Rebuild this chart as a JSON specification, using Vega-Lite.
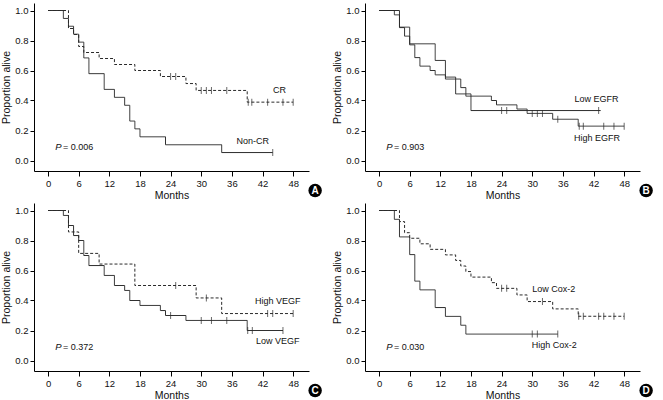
{
  "$schema": "https://vega.github.io/schema/vega-lite/v6.json",
  "padding": {"left": 1, "top": 3, "right": 0, "bottom": 0},
  "datasets": {"km": [
    {"p":"A","k":"km","g":"Non-CR","d":"solid","t":0,"s":1},
    {"p":"A","k":"km","g":"Non-CR","d":"solid","t":3,"s":0.947},
    {"p":"A","k":"km","g":"Non-CR","d":"solid","t":4,"s":0.895},
    {"p":"A","k":"km","g":"Non-CR","d":"solid","t":5,"s":0.842},
    {"p":"A","k":"km","g":"Non-CR","d":"solid","t":6,"s":0.789},
    {"p":"A","k":"km","g":"Non-CR","d":"solid","t":7,"s":0.684},
    {"p":"A","k":"km","g":"Non-CR","d":"solid","t":8,"s":0.579},
    {"p":"A","k":"km","g":"Non-CR","d":"solid","t":11,"s":0.474},
    {"p":"A","k":"km","g":"Non-CR","d":"solid","t":13,"s":0.421},
    {"p":"A","k":"km","g":"Non-CR","d":"solid","t":15,"s":0.368},
    {"p":"A","k":"km","g":"Non-CR","d":"solid","t":16,"s":0.263},
    {"p":"A","k":"km","g":"Non-CR","d":"solid","t":17,"s":0.211},
    {"p":"A","k":"km","g":"Non-CR","d":"solid","t":18,"s":0.158},
    {"p":"A","k":"km","g":"Non-CR","d":"solid","t":23,"s":0.105},
    {"p":"A","k":"km","g":"Non-CR","d":"solid","t":34,"s":0.053},
    {"p":"A","k":"km","g":"Non-CR","d":"solid","t":44,"s":0.053},
    {"p":"A","k":"km","g":"CR","d":"dashed","t":0,"s":1},
    {"p":"A","k":"km","g":"CR","d":"dashed","t":4,"s":0.88},
    {"p":"A","k":"km","g":"CR","d":"dashed","t":5,"s":0.84},
    {"p":"A","k":"km","g":"CR","d":"dashed","t":6,"s":0.76},
    {"p":"A","k":"km","g":"CR","d":"dashed","t":7,"s":0.72},
    {"p":"A","k":"km","g":"CR","d":"dashed","t":10,"s":0.68},
    {"p":"A","k":"km","g":"CR","d":"dashed","t":13,"s":0.64},
    {"p":"A","k":"km","g":"CR","d":"dashed","t":17,"s":0.6},
    {"p":"A","k":"km","g":"CR","d":"dashed","t":22,"s":0.56},
    {"p":"A","k":"km","g":"CR","d":"dashed","t":27,"s":0.513},
    {"p":"A","k":"km","g":"CR","d":"dashed","t":29,"s":0.467},
    {"p":"A","k":"km","g":"CR","d":"dashed","t":39,"s":0.389},
    {"p":"A","k":"km","g":"CR","d":"dashed","t":48,"s":0.389},
    {"p":"A","k":"cens","g":"Non-CR","t":44,"s":0.053},
    {"p":"A","k":"cens","g":"CR","t":24,"s":0.56},
    {"p":"A","k":"cens","g":"CR","t":25,"s":0.56},
    {"p":"A","k":"cens","g":"CR","t":30,"s":0.467},
    {"p":"A","k":"cens","g":"CR","t":31,"s":0.467},
    {"p":"A","k":"cens","g":"CR","t":32,"s":0.467},
    {"p":"A","k":"cens","g":"CR","t":35,"s":0.467},
    {"p":"A","k":"cens","g":"CR","t":39.2,"s":0.389},
    {"p":"A","k":"cens","g":"CR","t":39.9,"s":0.389},
    {"p":"A","k":"cens","g":"CR","t":43,"s":0.389},
    {"p":"A","k":"cens","g":"CR","t":46,"s":0.389},
    {"p":"A","k":"cens","g":"CR","t":48,"s":0.389},
    {"p":"A","k":"label","t":45.3,"s":0.467,"txt":"CR"},
    {"p":"A","k":"label","t":40.1,"s":0.131,"txt":"Non-CR"},
    {"p":"A","k":"p","txt":"= 0.006"},
    {"p":"A","k":"badge","txt":"A"},

    {"p":"B","k":"km","g":"Low","d":"solid","t":0,"s":1},
    {"p":"B","k":"km","g":"Low","d":"solid","t":4,"s":0.889},
    {"p":"B","k":"km","g":"Low","d":"solid","t":6,"s":0.778},
    {"p":"B","k":"km","g":"Low","d":"solid","t":11,"s":0.667},
    {"p":"B","k":"km","g":"Low","d":"solid","t":13,"s":0.556},
    {"p":"B","k":"km","g":"Low","d":"solid","t":15,"s":0.444},
    {"p":"B","k":"km","g":"Low","d":"solid","t":18,"s":0.333},
    {"p":"B","k":"km","g":"Low","d":"solid","t":43.4,"s":0.333},
    {"p":"B","k":"km","g":"High","d":"solid","t":0,"s":1},
    {"p":"B","k":"km","g":"High","d":"solid","t":3,"s":0.971},
    {"p":"B","k":"km","g":"High","d":"solid","t":4,"s":0.886},
    {"p":"B","k":"km","g":"High","d":"solid","t":5,"s":0.829},
    {"p":"B","k":"km","g":"High","d":"solid","t":6,"s":0.771},
    {"p":"B","k":"km","g":"High","d":"solid","t":7,"s":0.686},
    {"p":"B","k":"km","g":"High","d":"solid","t":8,"s":0.629},
    {"p":"B","k":"km","g":"High","d":"solid","t":10,"s":0.6},
    {"p":"B","k":"km","g":"High","d":"solid","t":11,"s":0.571},
    {"p":"B","k":"km","g":"High","d":"solid","t":13,"s":0.543},
    {"p":"B","k":"km","g":"High","d":"solid","t":16,"s":0.486},
    {"p":"B","k":"km","g":"High","d":"solid","t":17,"s":0.429},
    {"p":"B","k":"km","g":"High","d":"solid","t":22,"s":0.4},
    {"p":"B","k":"km","g":"High","d":"solid","t":23,"s":0.371},
    {"p":"B","k":"km","g":"High","d":"solid","t":27,"s":0.343},
    {"p":"B","k":"km","g":"High","d":"solid","t":29,"s":0.314},
    {"p":"B","k":"km","g":"High","d":"solid","t":34,"s":0.275},
    {"p":"B","k":"km","g":"High","d":"solid","t":39,"s":0.229},
    {"p":"B","k":"km","g":"High","d":"solid","t":48,"s":0.229},
    {"p":"B","k":"cens","g":"Low","t":24,"s":0.333},
    {"p":"B","k":"cens","g":"Low","t":25,"s":0.333},
    {"p":"B","k":"cens","g":"Low","t":43,"s":0.333},
    {"p":"B","k":"cens","g":"High","t":30,"s":0.314},
    {"p":"B","k":"cens","g":"High","t":31,"s":0.314},
    {"p":"B","k":"cens","g":"High","t":32,"s":0.314},
    {"p":"B","k":"cens","g":"High","t":35,"s":0.275},
    {"p":"B","k":"cens","g":"High","t":39.2,"s":0.229},
    {"p":"B","k":"cens","g":"High","t":40,"s":0.229},
    {"p":"B","k":"cens","g":"High","t":44,"s":0.229},
    {"p":"B","k":"cens","g":"High","t":46,"s":0.229},
    {"p":"B","k":"cens","g":"High","t":48,"s":0.229},
    {"p":"B","k":"label","t":42.6,"s":0.413,"txt":"Low EGFR"},
    {"p":"B","k":"label","t":42.7,"s":0.153,"txt":"High EGFR"},
    {"p":"B","k":"p","txt":"= 0.903"},
    {"p":"B","k":"badge","txt":"B"},

    {"p":"C","k":"km","g":"Low","d":"solid","t":0,"s":1},
    {"p":"C","k":"km","g":"Low","d":"solid","t":3,"s":0.967},
    {"p":"C","k":"km","g":"Low","d":"solid","t":4,"s":0.9},
    {"p":"C","k":"km","g":"Low","d":"solid","t":5,"s":0.833},
    {"p":"C","k":"km","g":"Low","d":"solid","t":6,"s":0.8},
    {"p":"C","k":"km","g":"Low","d":"solid","t":7,"s":0.7},
    {"p":"C","k":"km","g":"Low","d":"solid","t":8,"s":0.633},
    {"p":"C","k":"km","g":"Low","d":"solid","t":11,"s":0.567},
    {"p":"C","k":"km","g":"Low","d":"solid","t":13,"s":0.5},
    {"p":"C","k":"km","g":"Low","d":"solid","t":15,"s":0.467},
    {"p":"C","k":"km","g":"Low","d":"solid","t":16,"s":0.4},
    {"p":"C","k":"km","g":"Low","d":"solid","t":18,"s":0.367},
    {"p":"C","k":"km","g":"Low","d":"solid","t":22,"s":0.333},
    {"p":"C","k":"km","g":"Low","d":"solid","t":23,"s":0.3},
    {"p":"C","k":"km","g":"Low","d":"solid","t":27,"s":0.267},
    {"p":"C","k":"km","g":"Low","d":"solid","t":39,"s":0.2},
    {"p":"C","k":"km","g":"Low","d":"solid","t":46,"s":0.2},
    {"p":"C","k":"km","g":"High","d":"dashed","t":0,"s":1},
    {"p":"C","k":"km","g":"High","d":"dashed","t":4,"s":0.857},
    {"p":"C","k":"km","g":"High","d":"dashed","t":6,"s":0.714},
    {"p":"C","k":"km","g":"High","d":"dashed","t":10,"s":0.643},
    {"p":"C","k":"km","g":"High","d":"dashed","t":17,"s":0.5},
    {"p":"C","k":"km","g":"High","d":"dashed","t":29,"s":0.417},
    {"p":"C","k":"km","g":"High","d":"dashed","t":34,"s":0.313},
    {"p":"C","k":"km","g":"High","d":"dashed","t":48,"s":0.313},
    {"p":"C","k":"cens","g":"Low","t":24,"s":0.3},
    {"p":"C","k":"cens","g":"Low","t":30,"s":0.267},
    {"p":"C","k":"cens","g":"Low","t":32,"s":0.267},
    {"p":"C","k":"cens","g":"Low","t":35,"s":0.267},
    {"p":"C","k":"cens","g":"Low","t":39.1,"s":0.2},
    {"p":"C","k":"cens","g":"Low","t":40,"s":0.2},
    {"p":"C","k":"cens","g":"Low","t":46,"s":0.2},
    {"p":"C","k":"cens","g":"High","t":25,"s":0.5},
    {"p":"C","k":"cens","g":"High","t":31,"s":0.417},
    {"p":"C","k":"cens","g":"High","t":43,"s":0.313},
    {"p":"C","k":"cens","g":"High","t":44,"s":0.313},
    {"p":"C","k":"cens","g":"High","t":48,"s":0.313},
    {"p":"C","k":"label","t":45,"s":0.4,"txt":"High VEGF"},
    {"p":"C","k":"label","t":45,"s":0.131,"txt":"Low VEGF"},
    {"p":"C","k":"p","txt":"= 0.372"},
    {"p":"C","k":"badge","txt":"C"},

    {"p":"D","k":"km","g":"High","d":"solid","t":0,"s":1},
    {"p":"D","k":"km","g":"High","d":"solid","t":3,"s":0.941},
    {"p":"D","k":"km","g":"High","d":"solid","t":4,"s":0.824},
    {"p":"D","k":"km","g":"High","d":"solid","t":6,"s":0.706},
    {"p":"D","k":"km","g":"High","d":"solid","t":7,"s":0.529},
    {"p":"D","k":"km","g":"High","d":"solid","t":8,"s":0.471},
    {"p":"D","k":"km","g":"High","d":"solid","t":11,"s":0.353},
    {"p":"D","k":"km","g":"High","d":"solid","t":13,"s":0.294},
    {"p":"D","k":"km","g":"High","d":"solid","t":16,"s":0.235},
    {"p":"D","k":"km","g":"High","d":"solid","t":17,"s":0.176},
    {"p":"D","k":"km","g":"High","d":"solid","t":35,"s":0.176},
    {"p":"D","k":"km","g":"Low","d":"dashed","t":0,"s":1},
    {"p":"D","k":"km","g":"Low","d":"dashed","t":4,"s":0.926},
    {"p":"D","k":"km","g":"Low","d":"dashed","t":5,"s":0.852},
    {"p":"D","k":"km","g":"Low","d":"dashed","t":6,"s":0.815},
    {"p":"D","k":"km","g":"Low","d":"dashed","t":8,"s":0.778},
    {"p":"D","k":"km","g":"Low","d":"dashed","t":10,"s":0.741},
    {"p":"D","k":"km","g":"Low","d":"dashed","t":13,"s":0.704},
    {"p":"D","k":"km","g":"Low","d":"dashed","t":15,"s":0.667},
    {"p":"D","k":"km","g":"Low","d":"dashed","t":16,"s":0.63},
    {"p":"D","k":"km","g":"Low","d":"dashed","t":17,"s":0.593},
    {"p":"D","k":"km","g":"Low","d":"dashed","t":18,"s":0.556},
    {"p":"D","k":"km","g":"Low","d":"dashed","t":22,"s":0.519},
    {"p":"D","k":"km","g":"Low","d":"dashed","t":23,"s":0.481},
    {"p":"D","k":"km","g":"Low","d":"dashed","t":27,"s":0.437},
    {"p":"D","k":"km","g":"Low","d":"dashed","t":29,"s":0.393},
    {"p":"D","k":"km","g":"Low","d":"dashed","t":34,"s":0.344},
    {"p":"D","k":"km","g":"Low","d":"dashed","t":39,"s":0.295},
    {"p":"D","k":"km","g":"Low","d":"dashed","t":48,"s":0.295},
    {"p":"D","k":"cens","g":"High","t":30,"s":0.176},
    {"p":"D","k":"cens","g":"High","t":31,"s":0.176},
    {"p":"D","k":"cens","g":"High","t":35,"s":0.176},
    {"p":"D","k":"cens","g":"Low","t":24,"s":0.481},
    {"p":"D","k":"cens","g":"Low","t":25,"s":0.481},
    {"p":"D","k":"cens","g":"Low","t":32,"s":0.393},
    {"p":"D","k":"cens","g":"Low","t":39.1,"s":0.295},
    {"p":"D","k":"cens","g":"Low","t":40,"s":0.295},
    {"p":"D","k":"cens","g":"Low","t":43,"s":0.295},
    {"p":"D","k":"cens","g":"Low","t":44,"s":0.295},
    {"p":"D","k":"cens","g":"Low","t":46,"s":0.295},
    {"p":"D","k":"cens","g":"Low","t":48,"s":0.295},
    {"p":"D","k":"label","t":34.2,"s":0.48,"txt":"Low Cox-2"},
    {"p":"D","k":"label","t":34.3,"s":0.106,"txt":"High Cox-2"},
    {"p":"D","k":"p","txt":"= 0.030"},
    {"p":"D","k":"badge","txt":"D"}
  ]},
  "data": {"name": "km"},
  "spacing": 2,
  "vconcat": [
    {"hconcat": [
      {"width": 275, "height": 168, "transform": [{"filter": "datum.p === 'A'"}], "layer": [
        {"transform": [{"filter": "datum.k === 'km'"}], "mark": {"type": "line", "interpolate": "step-after", "strokeWidth": 1, "color": "#2a2a2a"},
         "encoding": {
          "x": {"field": "t", "type": "quantitative", "title": "Months", "scale": {"domain": [-2.75, 51.1], "nice": false, "zero": false}, "axis": {"values": [0, 6, 12, 18, 24, 30, 36, 42, 48], "grid": false, "labelOverlap": false, "labelFlush": false}},
          "y": {"field": "s", "type": "quantitative", "title": "Proportion alive", "scale": {"domain": [-0.07, 1.05], "nice": false, "zero": false}, "axis": {"values": [0, 0.2, 0.4, 0.6, 0.8, 1.0], "format": ".1f", "grid": false, "tickSize": 4, "labelOverlap": false, "labelFlush": false}},
          "detail": {"field": "g"},
          "strokeDash": {"field": "d", "type": "nominal", "scale": {"domain": ["solid", "dashed"], "range": [[1, 0], [3, 2]]}, "legend": null}}},
        {"transform": [{"filter": "datum.k === 'cens'"}], "mark": {"type": "tick", "orient": "vertical", "size": 7, "thickness": 1, "color": "#2a2a2a"},
         "encoding": {"x": {"field": "t", "type": "quantitative", "title": "Months", "axis": {"values": [0, 6, 12, 18, 24, 30, 36, 42, 48], "grid": false, "labelOverlap": false, "labelFlush": false}}, "y": {"field": "s", "type": "quantitative", "title": "Proportion alive", "axis": {"values": [0, 0.2, 0.4, 0.6, 0.8, 1.0], "format": ".1f", "grid": false, "tickSize": 4, "labelOverlap": false, "labelFlush": false}}}},
        {"transform": [{"filter": "datum.k === 'label'"}], "mark": {"type": "text", "fontSize": 9, "color": "#111", "align": "center", "baseline": "middle"},
         "encoding": {"x": {"field": "t", "type": "quantitative", "title": "Months", "axis": {"values": [0, 6, 12, 18, 24, 30, 36, 42, 48], "grid": false, "labelOverlap": false, "labelFlush": false}}, "y": {"field": "s", "type": "quantitative", "title": "Proportion alive", "axis": {"values": [0, 0.2, 0.4, 0.6, 0.8, 1.0], "format": ".1f", "grid": false, "tickSize": 4, "labelOverlap": false, "labelFlush": false}}, "text": {"field": "txt"}}},
        {"transform": [{"filter": "datum.k === 'p'"}], "mark": {"type": "text", "fontSize": 9.5, "fontStyle": "italic", "color": "#111", "align": "right", "baseline": "middle", "text": "P"},
         "encoding": {"x": {"datum": 2.65, "title": "Months", "axis": {"values": [0, 6, 12, 18, 24, 30, 36, 42, 48], "grid": false, "labelOverlap": false, "labelFlush": false}}, "y": {"datum": 0.09, "title": "Proportion alive", "axis": {"values": [0, 0.2, 0.4, 0.6, 0.8, 1.0], "format": ".1f", "grid": false, "tickSize": 4, "labelOverlap": false, "labelFlush": false}}}},
        {"transform": [{"filter": "datum.k === 'p'"}], "mark": {"type": "text", "fontSize": 9, "color": "#111", "align": "left", "baseline": "middle", "dx": 1.5},
         "encoding": {"x": {"datum": 2.65, "title": "Months", "axis": {"values": [0, 6, 12, 18, 24, 30, 36, 42, 48], "grid": false, "labelOverlap": false, "labelFlush": false}}, "y": {"datum": 0.09, "title": "Proportion alive", "axis": {"values": [0, 0.2, 0.4, 0.6, 0.8, 1.0], "format": ".1f", "grid": false, "tickSize": 4, "labelOverlap": false, "labelFlush": false}}, "text": {"field": "txt"}}},
        {"transform": [{"filter": "datum.k === 'badge'"}], "mark": {"type": "point", "filled": true, "shape": "circle", "size": 180, "color": "#000", "opacity": 1},
         "encoding": {"x": {"datum": 52.3, "title": "Months", "axis": {"values": [0, 6, 12, 18, 24, 30, 36, 42, 48], "grid": false, "labelOverlap": false, "labelFlush": false}}, "y": {"datum": -0.2, "title": "Proportion alive", "axis": {"values": [0, 0.2, 0.4, 0.6, 0.8, 1.0], "format": ".1f", "grid": false, "tickSize": 4, "labelOverlap": false, "labelFlush": false}}}},
        {"transform": [{"filter": "datum.k === 'badge'"}], "mark": {"type": "text", "fontSize": 10, "fontWeight": "bold", "color": "#fff", "align": "center", "baseline": "middle", "font": "Liberation Sans"},
         "encoding": {"x": {"datum": 52.3, "title": "Months", "axis": {"values": [0, 6, 12, 18, 24, 30, 36, 42, 48], "grid": false, "labelOverlap": false, "labelFlush": false}}, "y": {"datum": -0.2, "title": "Proportion alive", "axis": {"values": [0, 0.2, 0.4, 0.6, 0.8, 1.0], "format": ".1f", "grid": false, "tickSize": 4, "labelOverlap": false, "labelFlush": false}}, "text": {"field": "txt"}}}
      ]},
      {"width": 275, "height": 168, "transform": [{"filter": "datum.p === 'B'"}], "layer": [
        {"transform": [{"filter": "datum.k === 'km'"}], "mark": {"type": "line", "interpolate": "step-after", "strokeWidth": 1, "color": "#2a2a2a"},
         "encoding": {
          "x": {"field": "t", "type": "quantitative", "title": "Months", "scale": {"domain": [-2.75, 51.1], "nice": false, "zero": false}, "axis": {"values": [0, 6, 12, 18, 24, 30, 36, 42, 48], "grid": false, "labelOverlap": false, "labelFlush": false}},
          "y": {"field": "s", "type": "quantitative", "title": "Proportion alive", "scale": {"domain": [-0.07, 1.05], "nice": false, "zero": false}, "axis": {"values": [0, 0.2, 0.4, 0.6, 0.8, 1.0], "format": ".1f", "grid": false, "tickSize": 4, "labelOverlap": false, "labelFlush": false}},
          "detail": {"field": "g"},
          "strokeDash": {"field": "d", "type": "nominal", "scale": {"domain": ["solid", "dashed"], "range": [[1, 0], [3, 2]]}, "legend": null}}},
        {"transform": [{"filter": "datum.k === 'cens'"}], "mark": {"type": "tick", "orient": "vertical", "size": 7, "thickness": 1, "color": "#2a2a2a"},
         "encoding": {"x": {"field": "t", "type": "quantitative", "title": "Months", "axis": {"values": [0, 6, 12, 18, 24, 30, 36, 42, 48], "grid": false, "labelOverlap": false, "labelFlush": false}}, "y": {"field": "s", "type": "quantitative", "title": "Proportion alive", "axis": {"values": [0, 0.2, 0.4, 0.6, 0.8, 1.0], "format": ".1f", "grid": false, "tickSize": 4, "labelOverlap": false, "labelFlush": false}}}},
        {"transform": [{"filter": "datum.k === 'label'"}], "mark": {"type": "text", "fontSize": 9, "color": "#111", "align": "center", "baseline": "middle"},
         "encoding": {"x": {"field": "t", "type": "quantitative", "title": "Months", "axis": {"values": [0, 6, 12, 18, 24, 30, 36, 42, 48], "grid": false, "labelOverlap": false, "labelFlush": false}}, "y": {"field": "s", "type": "quantitative", "title": "Proportion alive", "axis": {"values": [0, 0.2, 0.4, 0.6, 0.8, 1.0], "format": ".1f", "grid": false, "tickSize": 4, "labelOverlap": false, "labelFlush": false}}, "text": {"field": "txt"}}},
        {"transform": [{"filter": "datum.k === 'p'"}], "mark": {"type": "text", "fontSize": 9.5, "fontStyle": "italic", "color": "#111", "align": "right", "baseline": "middle", "text": "P"},
         "encoding": {"x": {"datum": 2.65, "title": "Months", "axis": {"values": [0, 6, 12, 18, 24, 30, 36, 42, 48], "grid": false, "labelOverlap": false, "labelFlush": false}}, "y": {"datum": 0.09, "title": "Proportion alive", "axis": {"values": [0, 0.2, 0.4, 0.6, 0.8, 1.0], "format": ".1f", "grid": false, "tickSize": 4, "labelOverlap": false, "labelFlush": false}}}},
        {"transform": [{"filter": "datum.k === 'p'"}], "mark": {"type": "text", "fontSize": 9, "color": "#111", "align": "left", "baseline": "middle", "dx": 1.5},
         "encoding": {"x": {"datum": 2.65, "title": "Months", "axis": {"values": [0, 6, 12, 18, 24, 30, 36, 42, 48], "grid": false, "labelOverlap": false, "labelFlush": false}}, "y": {"datum": 0.09, "title": "Proportion alive", "axis": {"values": [0, 0.2, 0.4, 0.6, 0.8, 1.0], "format": ".1f", "grid": false, "tickSize": 4, "labelOverlap": false, "labelFlush": false}}, "text": {"field": "txt"}}},
        {"transform": [{"filter": "datum.k === 'badge'"}], "mark": {"type": "point", "filled": true, "shape": "circle", "size": 180, "color": "#000", "opacity": 1},
         "encoding": {"x": {"datum": 52.3, "title": "Months", "axis": {"values": [0, 6, 12, 18, 24, 30, 36, 42, 48], "grid": false, "labelOverlap": false, "labelFlush": false}}, "y": {"datum": -0.2, "title": "Proportion alive", "axis": {"values": [0, 0.2, 0.4, 0.6, 0.8, 1.0], "format": ".1f", "grid": false, "tickSize": 4, "labelOverlap": false, "labelFlush": false}}}},
        {"transform": [{"filter": "datum.k === 'badge'"}], "mark": {"type": "text", "fontSize": 10, "fontWeight": "bold", "color": "#fff", "align": "center", "baseline": "middle", "font": "Liberation Sans"},
         "encoding": {"x": {"datum": 52.3, "title": "Months", "axis": {"values": [0, 6, 12, 18, 24, 30, 36, 42, 48], "grid": false, "labelOverlap": false, "labelFlush": false}}, "y": {"datum": -0.2, "title": "Proportion alive", "axis": {"values": [0, 0.2, 0.4, 0.6, 0.8, 1.0], "format": ".1f", "grid": false, "tickSize": 4, "labelOverlap": false, "labelFlush": false}}, "text": {"field": "txt"}}}
      ]}
    ], "spacing": 56, "bounds": "flush"},
    {"hconcat": [
      {"width": 275, "height": 168, "transform": [{"filter": "datum.p === 'C'"}], "layer": [
        {"transform": [{"filter": "datum.k === 'km'"}], "mark": {"type": "line", "interpolate": "step-after", "strokeWidth": 1, "color": "#2a2a2a"},
         "encoding": {
          "x": {"field": "t", "type": "quantitative", "title": "Months", "scale": {"domain": [-2.75, 51.1], "nice": false, "zero": false}, "axis": {"values": [0, 6, 12, 18, 24, 30, 36, 42, 48], "grid": false, "labelOverlap": false, "labelFlush": false}},
          "y": {"field": "s", "type": "quantitative", "title": "Proportion alive", "scale": {"domain": [-0.07, 1.05], "nice": false, "zero": false}, "axis": {"values": [0, 0.2, 0.4, 0.6, 0.8, 1.0], "format": ".1f", "grid": false, "tickSize": 4, "labelOverlap": false, "labelFlush": false}},
          "detail": {"field": "g"},
          "strokeDash": {"field": "d", "type": "nominal", "scale": {"domain": ["solid", "dashed"], "range": [[1, 0], [3, 2]]}, "legend": null}}},
        {"transform": [{"filter": "datum.k === 'cens'"}], "mark": {"type": "tick", "orient": "vertical", "size": 7, "thickness": 1, "color": "#2a2a2a"},
         "encoding": {"x": {"field": "t", "type": "quantitative", "title": "Months", "axis": {"values": [0, 6, 12, 18, 24, 30, 36, 42, 48], "grid": false, "labelOverlap": false, "labelFlush": false}}, "y": {"field": "s", "type": "quantitative", "title": "Proportion alive", "axis": {"values": [0, 0.2, 0.4, 0.6, 0.8, 1.0], "format": ".1f", "grid": false, "tickSize": 4, "labelOverlap": false, "labelFlush": false}}}},
        {"transform": [{"filter": "datum.k === 'label'"}], "mark": {"type": "text", "fontSize": 9, "color": "#111", "align": "center", "baseline": "middle"},
         "encoding": {"x": {"field": "t", "type": "quantitative", "title": "Months", "axis": {"values": [0, 6, 12, 18, 24, 30, 36, 42, 48], "grid": false, "labelOverlap": false, "labelFlush": false}}, "y": {"field": "s", "type": "quantitative", "title": "Proportion alive", "axis": {"values": [0, 0.2, 0.4, 0.6, 0.8, 1.0], "format": ".1f", "grid": false, "tickSize": 4, "labelOverlap": false, "labelFlush": false}}, "text": {"field": "txt"}}},
        {"transform": [{"filter": "datum.k === 'p'"}], "mark": {"type": "text", "fontSize": 9.5, "fontStyle": "italic", "color": "#111", "align": "right", "baseline": "middle", "text": "P"},
         "encoding": {"x": {"datum": 2.65, "title": "Months", "axis": {"values": [0, 6, 12, 18, 24, 30, 36, 42, 48], "grid": false, "labelOverlap": false, "labelFlush": false}}, "y": {"datum": 0.09, "title": "Proportion alive", "axis": {"values": [0, 0.2, 0.4, 0.6, 0.8, 1.0], "format": ".1f", "grid": false, "tickSize": 4, "labelOverlap": false, "labelFlush": false}}}},
        {"transform": [{"filter": "datum.k === 'p'"}], "mark": {"type": "text", "fontSize": 9, "color": "#111", "align": "left", "baseline": "middle", "dx": 1.5},
         "encoding": {"x": {"datum": 2.65, "title": "Months", "axis": {"values": [0, 6, 12, 18, 24, 30, 36, 42, 48], "grid": false, "labelOverlap": false, "labelFlush": false}}, "y": {"datum": 0.09, "title": "Proportion alive", "axis": {"values": [0, 0.2, 0.4, 0.6, 0.8, 1.0], "format": ".1f", "grid": false, "tickSize": 4, "labelOverlap": false, "labelFlush": false}}, "text": {"field": "txt"}}},
        {"transform": [{"filter": "datum.k === 'badge'"}], "mark": {"type": "point", "filled": true, "shape": "circle", "size": 180, "color": "#000", "opacity": 1},
         "encoding": {"x": {"datum": 52.3, "title": "Months", "axis": {"values": [0, 6, 12, 18, 24, 30, 36, 42, 48], "grid": false, "labelOverlap": false, "labelFlush": false}}, "y": {"datum": -0.2, "title": "Proportion alive", "axis": {"values": [0, 0.2, 0.4, 0.6, 0.8, 1.0], "format": ".1f", "grid": false, "tickSize": 4, "labelOverlap": false, "labelFlush": false}}}},
        {"transform": [{"filter": "datum.k === 'badge'"}], "mark": {"type": "text", "fontSize": 10, "fontWeight": "bold", "color": "#fff", "align": "center", "baseline": "middle", "font": "Liberation Sans"},
         "encoding": {"x": {"datum": 52.3, "title": "Months", "axis": {"values": [0, 6, 12, 18, 24, 30, 36, 42, 48], "grid": false, "labelOverlap": false, "labelFlush": false}}, "y": {"datum": -0.2, "title": "Proportion alive", "axis": {"values": [0, 0.2, 0.4, 0.6, 0.8, 1.0], "format": ".1f", "grid": false, "tickSize": 4, "labelOverlap": false, "labelFlush": false}}, "text": {"field": "txt"}}}
      ]},
      {"width": 275, "height": 168, "transform": [{"filter": "datum.p === 'D'"}], "layer": [
        {"transform": [{"filter": "datum.k === 'km'"}], "mark": {"type": "line", "interpolate": "step-after", "strokeWidth": 1, "color": "#2a2a2a"},
         "encoding": {
          "x": {"field": "t", "type": "quantitative", "title": "Months", "scale": {"domain": [-2.75, 51.1], "nice": false, "zero": false}, "axis": {"values": [0, 6, 12, 18, 24, 30, 36, 42, 48], "grid": false, "labelOverlap": false, "labelFlush": false}},
          "y": {"field": "s", "type": "quantitative", "title": "Proportion alive", "scale": {"domain": [-0.07, 1.05], "nice": false, "zero": false}, "axis": {"values": [0, 0.2, 0.4, 0.6, 0.8, 1.0], "format": ".1f", "grid": false, "tickSize": 4, "labelOverlap": false, "labelFlush": false}},
          "detail": {"field": "g"},
          "strokeDash": {"field": "d", "type": "nominal", "scale": {"domain": ["solid", "dashed"], "range": [[1, 0], [3, 2]]}, "legend": null}}},
        {"transform": [{"filter": "datum.k === 'cens'"}], "mark": {"type": "tick", "orient": "vertical", "size": 7, "thickness": 1, "color": "#2a2a2a"},
         "encoding": {"x": {"field": "t", "type": "quantitative", "title": "Months", "axis": {"values": [0, 6, 12, 18, 24, 30, 36, 42, 48], "grid": false, "labelOverlap": false, "labelFlush": false}}, "y": {"field": "s", "type": "quantitative", "title": "Proportion alive", "axis": {"values": [0, 0.2, 0.4, 0.6, 0.8, 1.0], "format": ".1f", "grid": false, "tickSize": 4, "labelOverlap": false, "labelFlush": false}}}},
        {"transform": [{"filter": "datum.k === 'label'"}], "mark": {"type": "text", "fontSize": 9, "color": "#111", "align": "center", "baseline": "middle"},
         "encoding": {"x": {"field": "t", "type": "quantitative", "title": "Months", "axis": {"values": [0, 6, 12, 18, 24, 30, 36, 42, 48], "grid": false, "labelOverlap": false, "labelFlush": false}}, "y": {"field": "s", "type": "quantitative", "title": "Proportion alive", "axis": {"values": [0, 0.2, 0.4, 0.6, 0.8, 1.0], "format": ".1f", "grid": false, "tickSize": 4, "labelOverlap": false, "labelFlush": false}}, "text": {"field": "txt"}}},
        {"transform": [{"filter": "datum.k === 'p'"}], "mark": {"type": "text", "fontSize": 9.5, "fontStyle": "italic", "color": "#111", "align": "right", "baseline": "middle", "text": "P"},
         "encoding": {"x": {"datum": 2.65, "title": "Months", "axis": {"values": [0, 6, 12, 18, 24, 30, 36, 42, 48], "grid": false, "labelOverlap": false, "labelFlush": false}}, "y": {"datum": 0.09, "title": "Proportion alive", "axis": {"values": [0, 0.2, 0.4, 0.6, 0.8, 1.0], "format": ".1f", "grid": false, "tickSize": 4, "labelOverlap": false, "labelFlush": false}}}},
        {"transform": [{"filter": "datum.k === 'p'"}], "mark": {"type": "text", "fontSize": 9, "color": "#111", "align": "left", "baseline": "middle", "dx": 1.5},
         "encoding": {"x": {"datum": 2.65, "title": "Months", "axis": {"values": [0, 6, 12, 18, 24, 30, 36, 42, 48], "grid": false, "labelOverlap": false, "labelFlush": false}}, "y": {"datum": 0.09, "title": "Proportion alive", "axis": {"values": [0, 0.2, 0.4, 0.6, 0.8, 1.0], "format": ".1f", "grid": false, "tickSize": 4, "labelOverlap": false, "labelFlush": false}}, "text": {"field": "txt"}}},
        {"transform": [{"filter": "datum.k === 'badge'"}], "mark": {"type": "point", "filled": true, "shape": "circle", "size": 180, "color": "#000", "opacity": 1},
         "encoding": {"x": {"datum": 52.3, "title": "Months", "axis": {"values": [0, 6, 12, 18, 24, 30, 36, 42, 48], "grid": false, "labelOverlap": false, "labelFlush": false}}, "y": {"datum": -0.2, "title": "Proportion alive", "axis": {"values": [0, 0.2, 0.4, 0.6, 0.8, 1.0], "format": ".1f", "grid": false, "tickSize": 4, "labelOverlap": false, "labelFlush": false}}}},
        {"transform": [{"filter": "datum.k === 'badge'"}], "mark": {"type": "text", "fontSize": 10, "fontWeight": "bold", "color": "#fff", "align": "center", "baseline": "middle", "font": "Liberation Sans"},
         "encoding": {"x": {"datum": 52.3, "title": "Months", "axis": {"values": [0, 6, 12, 18, 24, 30, 36, 42, 48], "grid": false, "labelOverlap": false, "labelFlush": false}}, "y": {"datum": -0.2, "title": "Proportion alive", "axis": {"values": [0, 0.2, 0.4, 0.6, 0.8, 1.0], "format": ".1f", "grid": false, "tickSize": 4, "labelOverlap": false, "labelFlush": false}}, "text": {"field": "txt"}}}
      ]}
    ], "spacing": 56, "bounds": "flush"}
  ],
  "config": {
    "font": "Liberation Sans Narrow, Noto Sans Condensed, Liberation Sans, sans-serif",
    "view": {"stroke": null},
    "axis": {
      "domainColor": "#000", "tickColor": "#000", "labelColor": "#111", "titleColor": "#111",
      "labelFontSize": 9.5, "titleFontSize": 10.5, "titleFontWeight": "normal",
      "tickSize": 5, "labelPadding": 2, "titlePadding": 3, "labelOverlap": false, "labelFlush": false
    }
  }
}
